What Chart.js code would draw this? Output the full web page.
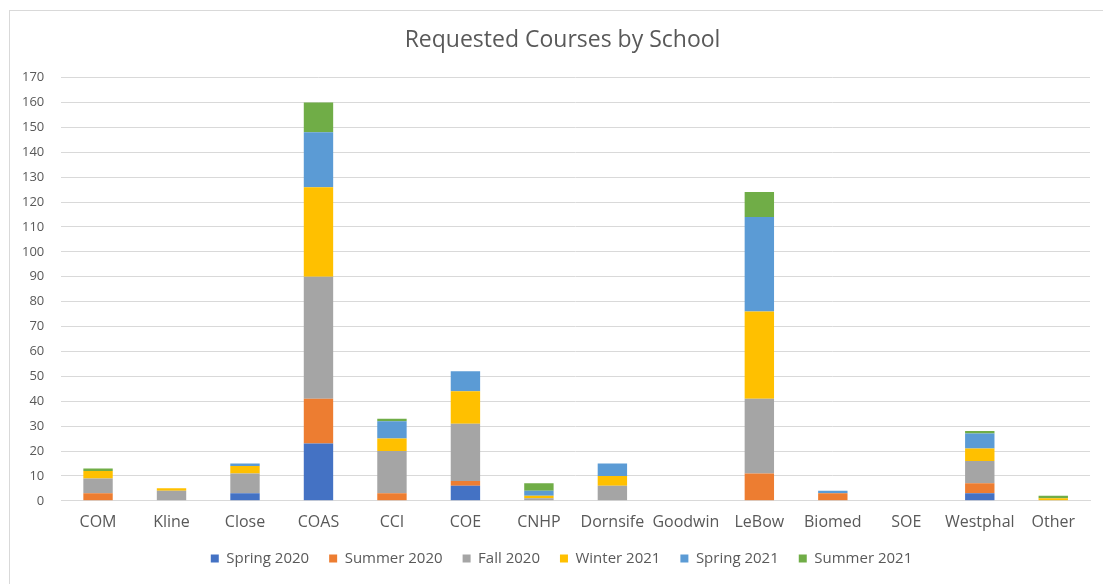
<!DOCTYPE html>
<html>
<head>
<meta charset="utf-8">
<script src="https://cdn.jsdelivr.net/npm/chart.js@4/dist/chart.umd.min.js"></script>
<style>
  html, body { margin: 0; padding: 0; background: #ffffff; overflow: hidden; }
  #frame { position: absolute; left: 9px; top: 10px; width: 1200px; height: 700px; border: 1px solid #d9d9d9; box-sizing: border-box; }
  #c { position: absolute; left: 0; top: 0; }
</style>
</head>
<body>
<div id="frame"></div>
<canvas id="c" width="1103" height="584"></canvas>
<script>
const categories = ["COM", "Kline", "Close", "COAS", "CCI", "COE", "CNHP", "Dornsife", "Goodwin", "LeBow", "Biomed", "SOE", "Westphal", "Other"];
const seriesNames = ["Spring 2020", "Summer 2020", "Fall 2020", "Winter 2021", "Spring 2021", "Summer 2021"];
const spring2020 = [0, 0, 3, 23, 0, 6, 0, 0, 0, 0, 0, 0, 3, 0];
const summer2020 = [3, 0, 0, 18, 3, 2, 0, 0, 0, 11, 3, 0, 4, 0];
const fall2020   = [6, 4, 8, 49, 17, 23, 1, 6, 0, 30, 0, 0, 9, 0];
const winter2021 = [3, 1, 3, 36, 5, 13, 1, 4, 0, 35, 0, 0, 5, 1];
const spring2021 = [0, 0, 1, 22, 7, 8, 2, 5, 0, 38, 1, 0, 6, 0];
const summer2021 = [1, 0, 0, 12, 1, 0, 3, 0, 0, 10, 0, 0, 1, 1];
const seriesColors = ["#4472C4", "#ED7D31", "#A5A5A5", "#FFC000", "#5B9BD5", "#70AD47"];
const yTicks = [0, 10, 20, 30, 40, 50, 60, 70, 80, 90, 100, 110, 120, 130, 140, 150, 160, 170];

const allSeries = [spring2020, summer2020, fall2020, winter2021, spring2021, summer2021];
const FONT = "'Open Sans', sans-serif";
const TXT = "#595959";

// nudge title and legend so they sit like the original
const centerShift = {
  id: "centerShift",
  afterLayout(chart) {
    const t = chart.titleBlock;
    if (t) { t.left += 15; t.right += 15; }
    const l = chart.legend;
    if (l) { l.left += 14; l.right += 14; l.top -= 13; l.bottom -= 13; }
  }
};

new Chart(document.getElementById("c"), {
  type: "bar",
  data: {
    labels: categories,
    datasets: allSeries.map((d, i) => ({
      label: seriesNames[i],
      data: d,
      backgroundColor: seriesColors[i],
      borderWidth: 0,
      barPercentage: 0.4,
      categoryPercentage: 1.0
    }))
  },
  plugins: [centerShift],
  options: {
    responsive: false,
    animation: false,
    layout: { padding: { left: 5, right: 13, top: 0, bottom: -5 } },
    plugins: {
      title: {
        display: true,
        text: "Requested Courses by School",
        color: TXT,
        font: { family: FONT, size: 23, weight: "normal" },
        padding: { top: 27, bottom: 23 }
      },
      legend: {
        position: "bottom",
        labels: {
          color: TXT,
          font: { family: FONT, size: 15, lineHeight: 0.75 },
          boxWidth: 8,
          boxHeight: 8,
          padding: 20
        }
      },
      tooltip: { enabled: false }
    },
    scales: {
      x: {
        stacked: true,
        grid: { display: false, drawTicks: false },
        border: { display: true, color: "#d9d9d9", width: 1 },
        ticks: { color: TXT, font: { family: FONT, size: 16 }, padding: 12, maxRotation: 0, minRotation: 0, autoSkip: false }
      },
      y: {
        stacked: true,
        min: 0,
        max: 170,
        afterBuildTicks: (axis) => { axis.ticks = yTicks.map(v => ({ value: v })); },
        grid: { color: "#d9d9d9", lineWidth: 1, drawTicks: false },
        border: { display: false },
        ticks: { color: TXT, font: { family: FONT, size: 13 }, padding: 17 }
      }
    }
  }
});
</script>
</body>
</html>
